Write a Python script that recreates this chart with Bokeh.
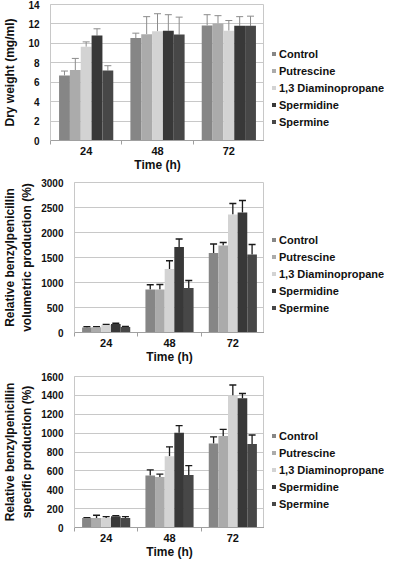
import numpy as np
from bokeh.plotting import figure
from bokeh.models import (ColumnDataSource, Whisker, TeeHead, Legend, LegendItem,
                          FixedTicker, Range1d)
from bokeh.layouts import column, row
from bokeh.embed import file_html
from bokeh.resources import INLINE

# ---------------- data ----------------
times = ["24", "48", "72"]
treatments = ["Control", "Putrescine", "1,3 Diaminopropane", "Spermidine", "Spermine"]
colors = ["#868686", "#ababab", "#d3d3d3", "#383838", "#474747"]

# Dry weight (mg/ml)
dw_control = [6.7, 10.55, 11.85]
dw_putrescine = [7.25, 10.95, 12.05]
dw_diamino = [9.65, 11.25, 11.3]
dw_spermidine = [10.8, 11.3, 11.8]
dw_spermine = [7.2, 10.9, 11.8]
dw_control_err = [0.45, 0.5, 1.1]
dw_putrescine_err = [1.2, 1.8, 0.8]
dw_diamino_err = [0.5, 1.8, 1.05]
dw_spermidine_err = [0.7, 1.65, 0.95]
dw_spermine_err = [0.5, 1.8, 1.0]

# Relative volumetric production (%)
vol_control = [100, 860, 1590]
vol_putrescine = [105, 860, 1740]
vol_diamino = [150, 1270, 2360]
vol_spermidine = [170, 1710, 2400]
vol_spermine = [110, 890, 1560]
vol_control_err = [15, 95, 180]
vol_putrescine_err = [10, 100, 60]
vol_diamino_err = [10, 165, 220]
vol_spermidine_err = [15, 160, 240]
vol_spermine_err = [10, 150, 200]

# Relative specific production (%)
spe_control = [100, 550, 890]
spe_putrescine = [100, 535, 970]
spe_diamino = [100, 755, 1400]
spe_spermidine = [120, 1005, 1370]
spe_spermine = [100, 555, 885]
spe_control_err = [5, 60, 70]
spe_putrescine_err = [30, 30, 70]
spe_diamino_err = [15, 100, 110]
spe_spermidine_err = [5, 75, 50]
spe_spermine_err = [15, 100, 95]

FONT = "Liberation Sans"
BAR_W = 0.152
CHART_W = 264
LEG_W = 120
GRID = "#c8c8c8"
NG = len(times)


def panel(series, errors, ymax, ystep, ylabel, height, top, frame_left, ylab_standoff,
          err_color, err_width, legend_y):
    p = figure(width=CHART_W, height=height, output_backend="svg", toolbar_location=None,
               x_range=Range1d(0, NG), y_range=Range1d(0, ymax),
               min_border_left=frame_left, min_border_top=top,
               min_border_bottom=30, min_border_right=0)
    p.background_fill_color = "white"
    p.border_fill_color = "white"
    p.outline_line_color = GRID
    p.xgrid.grid_line_color = None
    p.ygrid.grid_line_color = GRID
    p.ygrid.grid_line_width = 1

    # legend-only figure to the right of the chart
    q = figure(width=LEG_W, height=height, output_backend="svg", toolbar_location=None,
               x_range=Range1d(0, 1), y_range=Range1d(0, 1),
               x_axis_location=None, y_axis_location=None,
               min_border_left=0, min_border_right=0, min_border_top=0, min_border_bottom=0)
    q.outline_line_color = None
    q.grid.grid_line_color = None
    q.background_fill_color = "white"
    q.border_fill_color = "white"

    items = []
    for j, (vals, errs) in enumerate(zip(series, errors)):
        xs = np.arange(NG) + 0.5 + (j - 2) * BAR_W
        vals = np.array(vals, dtype=float)
        src = ColumnDataSource(dict(x=xs, top=vals, upper=vals + np.array(errs, dtype=float)))
        p.vbar(x="x", top="top", width=BAR_W, source=src,
               fill_color=colors[j], line_color=None)
        w = Whisker(source=src, base="x", lower="top", upper="upper", dimension="height",
                    line_color=err_color, line_width=err_width,
                    upper_head=TeeHead(size=7, line_color=err_color, line_width=err_width),
                    lower_head=None)
        p.add_layout(w)
        # legend proxy (no visible mark, only provides the legend swatch)
        lr = q.vbar(x=[np.nan], top=[np.nan], width=0.1, fill_color=colors[j], line_color=None)
        items.append(LegendItem(label=treatments[j], renderers=[lr]))

    # x axis
    xa = p.xaxis[0]
    xa.ticker = FixedTicker(ticks=[0.5, 1.5, 2.5], minor_ticks=[0, 1, 2, 3])
    xa.major_label_overrides = {0.5: times[0], 1.5: times[1], 2.5: times[2]}
    xa.major_tick_line_color = None
    xa.major_tick_out = 0
    xa.major_tick_in = 0
    xa.minor_tick_line_color = "#a0a0a0"
    xa.minor_tick_out = 4
    xa.minor_tick_in = 0
    xa.axis_line_color = "#a0a0a0"
    xa.major_label_standoff = 2
    xa.major_label_text_font = FONT
    xa.major_label_text_font_style = "bold"
    xa.major_label_text_font_size = "11px"
    xa.major_label_text_color = "#111111"
    xa.axis_label = "Time (h)"
    xa.axis_label_text_font = FONT
    xa.axis_label_text_font_style = "bold"
    xa.axis_label_text_font_size = "12px"
    xa.axis_label_text_color = "#111111"
    xa.axis_label_standoff = 0

    # y axis
    ya = p.yaxis[0]
    ya.ticker = FixedTicker(ticks=list(np.arange(0, ymax + ystep / 2, ystep)))
    ya.axis_line_color = GRID
    ya.major_tick_line_color = None
    ya.minor_tick_line_color = None
    ya.major_label_standoff = 5
    ya.major_label_text_font = FONT
    ya.major_label_text_font_style = "bold"
    ya.major_label_text_font_size = "10px"
    ya.major_label_text_color = "#111111"
    ya.axis_label = ylabel
    ya.axis_label_text_font = FONT
    ya.axis_label_text_font_style = "bold"
    ya.axis_label_text_font_size = "12px"
    ya.axis_label_text_color = "#111111"
    ya.axis_label_standoff = ylab_standoff

    leg = Legend(items=items, location=(7, legend_y),
                 margin=0, padding=0,
                 border_line_color=None, background_fill_alpha=0,
                 glyph_width=5, glyph_height=5, label_height=13, spacing=4,
                 label_standoff=3, label_text_font=FONT, label_text_font_style="bold",
                 label_text_font_size="11px", label_text_color="#111111")
    q.add_layout(leg)
    return row(p, q, spacing=0)


r1 = panel([dw_control, dw_putrescine, dw_diamino, dw_spermidine, dw_spermine],
           [dw_control_err, dw_putrescine_err, dw_diamino_err, dw_spermidine_err, dw_spermine_err],
           14, 2, "Dry weight (mg/ml)", 174, 4, 46, 8, "#8c8c8c", 1, 12)
r2 = panel([vol_control, vol_putrescine, vol_diamino, vol_spermidine, vol_spermine],
           [vol_control_err, vol_putrescine_err, vol_diamino_err, vol_spermidine_err, vol_spermine_err],
           3000, 500, "Relative benzylpenicillin\nvolumetric production (%)", 192, 8, 48, 4,
           "#1a1a1a", 1.3, 18)
r3 = panel([spe_control, spe_putrescine, spe_diamino, spe_spermidine, spe_spermine],
           [spe_control_err, spe_putrescine_err, spe_diamino_err, spe_spermidine_err, spe_spermine_err],
           1600, 200, "Relative benzylpenicillin\nspecific production (%)", 195, 10, 48, 4,
           "#1a1a1a", 1.3, 17)

layout = column(r1, r2, r3, spacing=0)
open("out.html", "w").write(file_html(layout, INLINE))
